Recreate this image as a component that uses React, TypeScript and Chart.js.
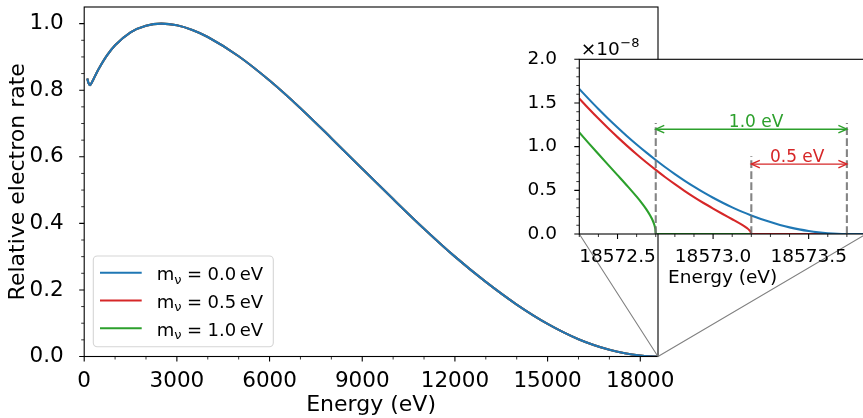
import React, { useEffect, useRef } from "react";
import { Chart, registerables } from "chart.js";

Chart.register(...registerables);

// ---------------- data ----------------
const E0 = 18573.7;
const masses = [0.0, 0.5, 1.0];
const seriesColors = ["#1f77b4", "#d62728", "#2ca02c"];

const mainEnergy = [100, 140, 190, 250, 300, 400, 500, 750, 1000, 1500, 2000, 2500, 3000, 3500, 4000, 5000, 6000, 7000, 8000, 9000, 10000, 11000, 12000, 13000, 14000, 15000, 16000, 17000, 17500, 18000, 18300, 18573.7];
const mainRate = [0.835, 0.821, 0.815, 0.824, 0.833, 0.852, 0.869, 0.906, 0.935, 0.974, 0.994, 1.0, 0.995, 0.981, 0.960, 0.902, 0.829, 0.746, 0.656, 0.564, 0.473, 0.384, 0.300, 0.224, 0.156, 0.098, 0.052, 0.020, 0.0095, 0.0028, 0.0006, 0];

const mainXTicks = [0, 3000, 6000, 9000, 12000, 15000, 18000];
const mainXMinor = [1000, 2000, 4000, 5000, 7000, 8000, 10000, 11000, 13000, 14000, 16000, 17000];
const mainYTicks = [0, 0.2, 0.4, 0.6, 0.8, 1.0];
const mainYMinor = [0.05, 0.1, 0.15, 0.25, 0.3, 0.35, 0.45, 0.5, 0.55, 0.65, 0.7, 0.75, 0.85, 0.9, 0.95];

// inset (rates in units of 1e-8)
const insetXMin = 18572.3;
const insetXMax = 18573.8;
const insetBlueEnergy = [18572.30, 18572.35, 18572.40, 18572.45, 18572.50, 18572.55, 18572.60, 18572.65, 18572.70, 18572.75, 18572.80, 18572.85, 18572.90, 18572.95, 18573.00, 18573.05, 18573.10, 18573.15, 18573.20, 18573.25, 18573.30, 18573.35, 18573.40, 18573.45, 18573.50, 18573.55, 18573.60, 18573.65, 18573.70, 18573.80];
const insetBlueRate = [1.660, 1.544, 1.431, 1.323, 1.220, 1.120, 1.025, 0.934, 0.847, 0.764, 0.686, 0.612, 0.542, 0.476, 0.415, 0.358, 0.305, 0.256, 0.212, 0.172, 0.136, 0.104, 0.076, 0.053, 0.034, 0.019, 0.0085, 0.0021, 0, 0];
const insetRedEnergy = [18572.30, 18572.35, 18572.40, 18572.45, 18572.50, 18572.55, 18572.60, 18572.65, 18572.70, 18572.75, 18572.80, 18572.85, 18572.90, 18572.95, 18573.00, 18573.05, 18573.10, 18573.15, 18573.17, 18573.18, 18573.19, 18573.195, 18573.20, 18573.80];
const insetRedRate = [1.551, 1.434, 1.321, 1.213, 1.109, 1.009, 0.913, 0.821, 0.734, 0.650, 0.571, 0.495, 0.423, 0.355, 0.291, 0.229, 0.169, 0.107, 0.079, 0.063, 0.043, 0.030, 0, 0];
const insetGreenEnergy = [18572.30, 18572.35, 18572.40, 18572.45, 18572.50, 18572.55, 18572.60, 18572.63, 18572.65, 18572.67, 18572.68, 18572.69, 18572.695, 18572.698, 18572.70, 18573.80];
const insetGreenRate = [1.162, 1.037, 0.915, 0.794, 0.674, 0.553, 0.427, 0.345, 0.285, 0.215, 0.174, 0.121, 0.085, 0.054, 0, 0];

const insetXTicks = [18572.5, 18573.0, 18573.5];
const insetXMinor = [18572.3, 18572.4, 18572.6, 18572.7, 18572.8, 18572.9, 18573.1, 18573.2, 18573.3, 18573.4, 18573.6, 18573.7];
const insetYTicks = [0, 0.5, 1.0, 1.5, 2.0];
const insetYMinor = [0.1, 0.2, 0.3, 0.4, 0.6, 0.7, 0.8, 0.9, 1.1, 1.2, 1.3, 1.4, 1.6, 1.7, 1.8, 1.9];

// annotations (inset)
const endpoints = [E0 - 1.0, E0 - 0.5, E0];
const dashTops = [1.27, 0.89, 1.27];
const arrowGreen = { x0: E0 - 1.0, x1: E0, y: 1.2, label: "1.0 eV", labelX: 18573.225 };
const arrowRed = { x0: E0 - 0.5, x1: E0, y: 0.8, label: "0.5 eV", labelX: 18573.44 };

const FONT = "'DejaVu Sans', sans-serif";

const zip = (xs: number[], ys: number[]) => xs.map((x, i) => ({ x, y: ys[i] }));

function drawTickMarks(chart: any, axis: "x" | "y", values: number[], len: number, width: number) {
  const { ctx, chartArea } = chart;
  const s = chart.scales[axis];
  ctx.save();
  ctx.strokeStyle = "#000";
  ctx.lineWidth = width;
  ctx.beginPath();
  for (const v of values) {
    const p = s.getPixelForValue(v);
    if (axis === "x") {
      ctx.moveTo(p, chartArea.bottom);
      ctx.lineTo(p, chartArea.bottom + len);
    } else {
      ctx.moveTo(chartArea.left, p);
      ctx.lineTo(chartArea.left - len, p);
    }
  }
  ctx.stroke();
  ctx.restore();
}

function drawFrame(chart: any) {
  const { ctx, chartArea: a } = chart;
  ctx.save();
  ctx.strokeStyle = "#000";
  ctx.lineWidth = 1.1;
  ctx.strokeRect(a.left, a.top, a.right - a.left, a.bottom - a.top);
  ctx.restore();
}

function drawArrowHead(ctx: CanvasRenderingContext2D, x: number, y: number, dir: number) {
  const L = 8.5, W = 3.8;
  ctx.beginPath();
  ctx.moveTo(x + dir * L, y - W);
  ctx.lineTo(x, y);
  ctx.lineTo(x + dir * L, y + W);
  ctx.stroke();
}

function drawLegendLabel(ctx: CanvasRenderingContext2D, x: number, baseline: number, value: string) {
  ctx.fillStyle = "#000";
  ctx.textAlign = "left";
  ctx.textBaseline = "alphabetic";
  ctx.font = `18px ${FONT}`;
  ctx.fillText("m", x, baseline);
  let cx = x + ctx.measureText("m").width;
  ctx.font = `13px ${FONT}`;
  ctx.fillText("ν", cx, baseline + 3.5);
  cx += ctx.measureText("ν").width + 5.5;
  ctx.font = `18px ${FONT}`;
  ctx.fillText("=", cx, baseline);
  cx += ctx.measureText("=").width + 5.5;
  ctx.fillText(value, cx, baseline);
  cx += ctx.measureText(value).width + 3.5;
  ctx.fillText("eV", cx, baseline);
}

export default function App() {
  const mainRef = useRef<HTMLCanvasElement>(null);
  const insetRef = useRef<HTMLCanvasElement>(null);

  useEffect(() => {
    Chart.defaults.font.family = FONT;
    Chart.defaults.color = "#000";

    // ---------- inset ----------
    const insetPlugin = {
      id: "insetDecor",
      beforeDraw(chart: any) {
        const { ctx, chartArea: a } = chart;
        ctx.save();
        ctx.fillStyle = "#fff";
        ctx.fillRect(a.left, a.top, a.right - a.left, a.bottom - a.top);
        ctx.restore();
      },
      afterDatasetsDraw(chart: any) {
        const { ctx, chartArea: a } = chart;
        const xs = chart.scales.x, ys = chart.scales.y;
        // dashed vertical lines
        ctx.save();
        ctx.strokeStyle = "rgba(110,110,110,0.85)";
        ctx.lineWidth = 2.1;
        ctx.setLineDash([7.7, 3.3]);
        endpoints.forEach((e, i) => {
          const px = xs.getPixelForValue(e);
          ctx.beginPath();
          ctx.moveTo(px, ys.getPixelForValue(0));
          ctx.lineTo(px, ys.getPixelForValue(dashTops[i]));
          ctx.stroke();
        });
        ctx.restore();
        // arrows
        [
          { ...arrowGreen, color: seriesColors[2] },
          { ...arrowRed, color: seriesColors[1] },
        ].forEach((ar) => {
          const x0 = xs.getPixelForValue(ar.x0), x1 = xs.getPixelForValue(ar.x1), y = ys.getPixelForValue(ar.y);
          ctx.save();
          ctx.strokeStyle = ar.color;
          ctx.lineWidth = 1.4;
          ctx.beginPath();
          ctx.moveTo(x0, y);
          ctx.lineTo(x1, y);
          ctx.stroke();
          drawArrowHead(ctx, x0, y, 1);
          drawArrowHead(ctx, x1, y, -1);
          ctx.fillStyle = ar.color;
          ctx.font = `17px ${FONT}`;
          ctx.textAlign = "center";
          ctx.textBaseline = "alphabetic";
          ctx.fillText(ar.label, xs.getPixelForValue(ar.labelX), y - 2.5);
          ctx.restore();
        });
        drawFrame(chart);
        drawTickMarks(chart, "x", insetXTicks, 5, 1.1);
        drawTickMarks(chart, "x", insetXMinor, 3, 0.8);
        drawTickMarks(chart, "y", insetYTicks, 5, 1.1);
        drawTickMarks(chart, "y", insetYMinor, 3, 0.8);
        // offset text  x10^-8
        ctx.save();
        ctx.fillStyle = "#000";
        ctx.textAlign = "left";
        ctx.textBaseline = "alphabetic";
        ctx.font = `18.5px ${FONT}`;
        ctx.fillText("×10", a.left + 1.5, a.top - 4.3);
        const w = ctx.measureText("×10").width;
        ctx.font = `13px ${FONT}`;
        ctx.fillText("−8", a.left + 1.5 + w + 0.5, a.top - 12.5);
        ctx.restore();
      },
    };

    const insetChart = new Chart(insetRef.current!, {
      type: "line",
      data: {
        datasets: [
          { label: "m0", data: zip(insetBlueEnergy, insetBlueRate), borderColor: seriesColors[0] },
          { label: "m05", data: zip(insetRedEnergy, insetRedRate), borderColor: seriesColors[1] },
          { label: "m1", data: zip(insetGreenEnergy, insetGreenRate), borderColor: seriesColors[2] },
        ].map((d) => ({ ...d, borderWidth: 2.1, pointRadius: 0, cubicInterpolationMode: "monotone" as const, fill: false })),
      },
      options: {
        responsive: false,
        animation: false,
        devicePixelRatio: 1,
        layout: { padding: { left: 579.3 - 60, top: 59.3, right: 900 - 866, bottom: 124 } },
        plugins: { legend: { display: false }, tooltip: { enabled: false } },
        events: [],
        scales: {
          x: {
            type: "linear",
            min: insetXMin,
            max: insetXMax,
            grid: { display: false },
            border: { display: false },
            ticks: { padding: 4.5, font: { size: 18.5 }, color: "#000", maxRotation: 0, autoSkip: false, callback: (v: any) => Number(v).toFixed(1) },
            afterBuildTicks: (s: any) => { s.ticks = insetXTicks.map((v) => ({ value: v })); },
            afterFit: (s: any) => { s.height = 60; s.paddingLeft = 0; s.paddingRight = 0; s.paddingTop = 0; s.paddingBottom = 0; },
            title: { display: true, text: "Energy (eV)", font: { size: 18.5 }, color: "#000", padding: { top: 0, bottom: 4.8 } },
          },
          y: {
            type: "linear",
            min: 0,
            max: 2.0,
            grid: { display: false },
            border: { display: false },
            ticks: { padding: 14.3, font: { size: 18.5 }, color: "#000", autoSkip: false, callback: (v: any) => Number(v).toFixed(1) },
            afterBuildTicks: (s: any) => { s.ticks = insetYTicks.map((v) => ({ value: v })); },
            afterFit: (s: any) => { s.width = 60; s.paddingLeft = 0; s.paddingRight = 0; s.paddingTop = 0; s.paddingBottom = 0; },
          },
        },
      } as any,
      plugins: [insetPlugin],
    });

    // ---------- main ----------
    const mainPlugin = {
      id: "mainDecor",
      afterDatasetsDraw(chart: any) {
        drawFrame(chart);
        drawTickMarks(chart, "x", mainXTicks, 5, 1.1);
        drawTickMarks(chart, "x", mainXMinor, 3, 0.8);
        drawTickMarks(chart, "y", mainYTicks, 5, 1.1);
        drawTickMarks(chart, "y", mainYMinor, 3, 0.8);
      },
      afterDraw(chart: any) {
        const { ctx, chartArea: a } = chart;
        const xs = chart.scales.x, ys = chart.scales.y;
        // connectors to inset
        const ia = insetChart.chartArea;
        ctx.save();
        ctx.strokeStyle = "#808080";
        ctx.lineWidth = 1.1;
        ctx.beginPath();
        ctx.moveTo(ia.left, ia.bottom);
        ctx.lineTo(xs.getPixelForValue(insetXMin), ys.getPixelForValue(0));
        ctx.moveTo(ia.right, ia.bottom);
        ctx.lineTo(xs.getPixelForValue(insetXMax), ys.getPixelForValue(0));
        ctx.stroke();
        ctx.restore();
        // legend
        const bx = a.left + 9.1, by = 256, bw = 180, bh = 90.7;
        ctx.save();
        ctx.fillStyle = "rgba(255,255,255,0.8)";
        ctx.strokeStyle = "#d5d5d5";
        ctx.lineWidth = 1.1;
        ctx.beginPath();
        (ctx as any).roundRect(bx, by, bw, bh, 4);
        ctx.fill();
        ctx.stroke();
        masses.forEach((m, i) => {
          const rowY = 272.7 + i * 27.8;
          ctx.strokeStyle = seriesColors[i];
          ctx.lineWidth = 2.1;
          ctx.beginPath();
          ctx.moveTo(bx + 6.7, rowY);
          ctx.lineTo(bx + 48.4, rowY);
          ctx.stroke();
          drawLegendLabel(ctx, bx + 63.4, rowY + 7.3, m.toFixed(1));
        });
        ctx.restore();
      },
    };

    const mainData = zip(mainEnergy, mainRate);
    const mainChart = new Chart(mainRef.current!, {
      type: "line",
      data: {
        datasets: masses.map((m, i) => ({
          label: `mν = ${m.toFixed(1)} eV`,
          data: mainData,
          borderColor: seriesColors[i],
          borderWidth: 2.1,
          pointRadius: 0,
          cubicInterpolationMode: "monotone" as const,
          fill: false,
        })),
      },
      options: {
        responsive: false,
        animation: false,
        devicePixelRatio: 1,
        layout: { padding: { left: 0, top: 7, right: 863 - 658, bottom: 0 } },
        plugins: { legend: { display: false }, tooltip: { enabled: false } },
        events: [],
        scales: {
          x: {
            type: "linear",
            min: 0,
            max: E0,
            grid: { display: false },
            border: { display: false },
            ticks: { padding: 4.5, font: { size: 21.5 }, color: "#000", maxRotation: 0, autoSkip: false, callback: (v: any) => String(Math.round(Number(v))) },
            afterBuildTicks: (s: any) => { s.ticks = mainXTicks.map((v) => ({ value: v })); },
            afterFit: (s: any) => { s.height = 418 - 356.5; s.paddingLeft = 0; s.paddingRight = 0; s.paddingTop = 0; s.paddingBottom = 0; },
            title: { display: true, text: "Energy (eV)", font: { size: 22 }, color: "#000", padding: { top: 0, bottom: 0 } },
          },
          y: {
            type: "linear",
            min: 0,
            max: 1.05,
            grid: { display: false },
            border: { display: false },
            ticks: { padding: 12.5, font: { size: 21.5 }, color: "#000", autoSkip: false, callback: (v: any) => Number(v).toFixed(1) },
            afterBuildTicks: (s: any) => { s.ticks = mainYTicks.map((v) => ({ value: v })); },
            afterFit: (s: any) => { s.width = 84.2; s.paddingLeft = 0; s.paddingRight = 0; s.paddingTop = 0; s.paddingBottom = 0; },
            title: { display: true, text: "Relative electron rate", font: { size: 22 }, color: "#000", padding: { top: 5.3, bottom: 0 } },
          },
        },
      } as any,
      plugins: [mainPlugin],
    });

    return () => {
      mainChart.destroy();
      insetChart.destroy();
    };
  }, []);

  return (
    <div style={{ position: "absolute", left: 0, top: 0, width: 863, height: 418, overflow: "hidden", background: "#fff" }}>
      <canvas ref={mainRef} width={863} height={418} style={{ position: "absolute", left: 0, top: 0 }} />
      <canvas ref={insetRef} width={900} height={418} style={{ position: "absolute", left: 0, top: 0 }} />
    </div>
  );
}
